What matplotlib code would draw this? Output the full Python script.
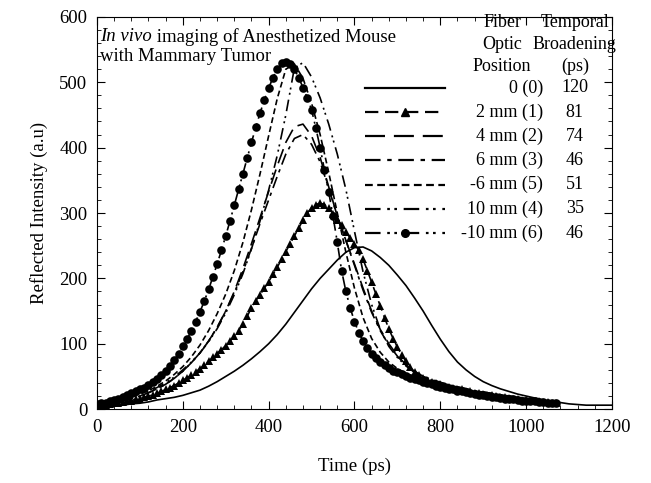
import matplotlib
matplotlib.use("Agg")
import matplotlib.pyplot as plt
import numpy as np

plt.rcParams["font.family"] = ["Liberation Serif", "DejaVu Serif"]
plt.rcParams["font.size"] = 13.5

# time axes (ps)
t_solid = np.arange(0, 1201, 20)
t_lines = np.arange(0, 1061, 20)
t_marks = np.arange(0, 1071, 10)

# 0 (0) - solid
y_0mm = [3, 4, 5, 6, 8, 9, 11, 14, 16, 18,
         21, 25, 29, 35, 42, 50, 58, 67, 77, 88,
         100, 114, 130, 148, 166, 184, 200, 214, 228, 240,
         247, 248, 242, 232, 220, 205, 189, 170, 150, 128,
         107, 88, 72, 60, 50, 42, 36, 31, 27, 23,
         20, 17, 14, 12, 10, 8, 7, 6, 6, 6, 6]

# 2 mm (1) - triangles
y_2mm = [5, 6, 7, 8, 9, 10, 11, 12, 13, 15,
         16, 18, 20, 22, 24, 27, 30, 33, 36, 40,
         44, 48, 52, 57, 62, 67, 73, 79, 85, 91,
         97, 104, 112, 120, 130, 142, 155, 166, 175, 185,
         195, 206, 217, 229, 241, 253, 265, 277, 289, 300,
         308, 313, 315, 313, 307, 299, 290, 281, 271, 262,
         253, 243, 229, 212, 194, 176, 158, 140, 123, 108,
         95, 83, 73, 64, 57, 52, 48, 45, 42, 40,
         38, 36, 34, 33, 31, 30, 28, 27, 25, 24,
         23, 22, 21, 20, 19, 18, 17, 16, 15, 14,
         14, 13, 12, 12, 11, 11, 10, 10]

# 4 mm (2) - long dash
y_4mm = [7, 9, 11, 13, 16, 20, 25, 31, 38, 47,
         58, 71, 86, 104, 125, 150, 180, 215, 253, 293,
         333, 372, 408, 432, 436, 418, 385, 340, 295, 258,
         222, 185, 150, 122, 100, 82, 68, 58, 50, 45,
         41, 37, 34, 31, 28, 26, 24, 22, 20, 18,
         16, 14, 12, 11]

# 6 mm (3) - dash dot
y_6mm = [7, 9, 11, 13, 16, 20, 25, 31, 38, 47,
         58, 71, 86, 104, 125, 150, 178, 210, 246, 284,
         320, 356, 390, 414, 420, 405, 378, 338, 295, 258,
         220, 182, 148, 120, 98, 81, 67, 57, 50, 45,
         41, 37, 34, 31, 28, 26, 24, 22, 20, 18,
         16, 14, 12, 11]

# -6 mm (5) - short dash
y_m6mm = [8, 10, 12, 15, 19, 23, 28, 35, 43, 53,
          65, 80, 98, 120, 146, 176, 212, 255, 305, 360,
          418, 475, 520, 528, 506, 468, 420, 362, 300, 240,
          185, 140, 108, 87, 72, 62, 55, 49, 45, 41,
          38, 35, 32, 30, 27, 25, 23, 21, 19, 17,
          15, 13, 12, 11]

# 10 mm (4) - dash dot dot
y_10mm = [8, 10, 12, 15, 18, 22, 27, 33, 40, 49,
          60, 72, 86, 103, 123, 147, 175, 207, 245, 288,
          335, 388, 450, 522, 530, 508, 476, 436, 390, 336,
          272, 210, 160, 122, 96, 79, 66, 56, 49, 44,
          40, 36, 33, 30, 27, 25, 23, 21, 19, 17,
          15, 13, 12, 11]

# -10 mm (6) - circles
y_m10mm = [8, 9, 10, 12, 14, 16, 18, 21, 24, 27,
           30, 33, 37, 41, 46, 52, 58, 66, 75, 85,
           96, 107, 120, 134, 149, 165, 183, 202, 222, 243,
           265, 288, 312, 336, 360, 384, 408, 431, 453, 473,
           491, 507, 520, 529, 531, 528, 520, 507, 492, 476,
           458, 430, 400, 366, 332, 295, 255, 212, 180, 155,
           134, 117, 104, 93, 85, 78, 72, 67, 63, 59,
           56, 53, 51, 48, 46, 44, 42, 40, 38, 36,
           34, 33, 31, 30, 28, 27, 26, 24, 23, 22,
           21, 20, 19, 18, 17, 16, 15, 15, 14, 13,
           13, 12, 12, 11, 11, 10, 10, 10]

positions = ["0 (0)", "2 mm (1)", "4 mm (2)", "6 mm (3)",
             "-6 mm (5)", "10 mm (4)", "-10 mm (6)"]
broadening = ["120", "81", "74", "46", "51", "35", "46"]

series = [
    (t_solid, y_0mm, dict(linestyle="-"), None, 0),
    (t_marks, y_2mm, dict(linestyle=(0, (6, 3))), "^", 5.8),
    (t_lines, y_4mm, dict(linestyle=(0, (9, 4))), None, 0),
    (t_lines, y_6mm, dict(linestyle=(0, (7, 3, 2, 3))), None, 0),
    (t_lines, y_m6mm, dict(linestyle=(0, (3.5, 2))), None, 0),
    (t_lines, y_10mm, dict(linestyle=(0, (7, 3, 1.2, 2, 1.2, 3))), None, 0),
    (t_marks, y_m10mm, dict(linestyle=(0, (7, 3, 1.2, 2, 1.2, 3))), "o", 6.2),
]

fig = plt.figure(figsize=(6.51, 4.83), dpi=100)
ax = fig.add_axes([0.149, 0.153, 0.791, 0.812])

for t, y, style, marker, ms in series:
    if marker:
        ax.plot(t, y, color="k", lw=1.2, marker=marker, markersize=ms,
                markeredgewidth=0, **style)
    else:
        ax.plot(t, y, color="k", lw=1.2, **style)

ax.set_xlim(0, 1200)
ax.set_ylim(0, 600)
ax.set_xticks(np.arange(0, 1201, 200))
ax.set_yticks(np.arange(0, 601, 100))
ax.set_xticks(np.arange(0, 1201, 40), minor=True)
ax.set_yticks(np.arange(0, 601, 20), minor=True)
ax.tick_params(which="both", direction="in", top=True, right=True)
ax.tick_params(which="major", length=6, pad=7)
ax.tick_params(which="minor", length=3)
ax.set_xlabel("Time (ps)", labelpad=16)
ax.set_ylabel("Reflected Intensity (a.u)", labelpad=8)

# title text inside the axes
t1 = ax.text(0.006, 0.949, "In vivo", style="italic", transform=ax.transAxes,
             va="center", ha="left")
ax.annotate(" imaging of Anesthetized Mouse", xycoords=t1, xy=(1, 0.5),
            va="center", ha="left")
ax.text(0.006, 0.898, "with Mammary Tumor", transform=ax.transAxes,
        va="center", ha="left")

# hand-made legend table
lfs = 13
hdr_y = [0.985, 0.929, 0.873]
for txt, yy in zip(["Fiber", "Optic", "Position"], hdr_y):
    ax.text(0.787, yy, txt, transform=ax.transAxes, ha="center", va="center",
            fontsize=lfs)
for txt, yy in zip(["Temporal", "Broadening", "(ps)"], hdr_y):
    ax.text(0.928, yy, txt, transform=ax.transAxes, ha="center", va="center",
            fontsize=lfs)

row0, step = 0.819, 0.0617
for i, (t, y, style, marker, ms) in enumerate(series):
    yy = row0 - i * step
    kw = dict(color="k", lw=1.6, transform=ax.transAxes, clip_on=False, **style)
    if marker:
        ax.plot([0.520, 0.598, 0.676], [yy, yy, yy], marker=marker,
                markevery=[1], markersize=5.5, **kw)
    else:
        ax.plot([0.520, 0.676], [yy, yy], **kw)
    ax.text(0.866, yy, positions[i], transform=ax.transAxes,
            ha="right", va="center", fontsize=lfs)
    ax.text(0.928, yy, broadening[i], transform=ax.transAxes,
            ha="center", va="center", fontsize=lfs)

fig.savefig("out.png", dpi=100)
